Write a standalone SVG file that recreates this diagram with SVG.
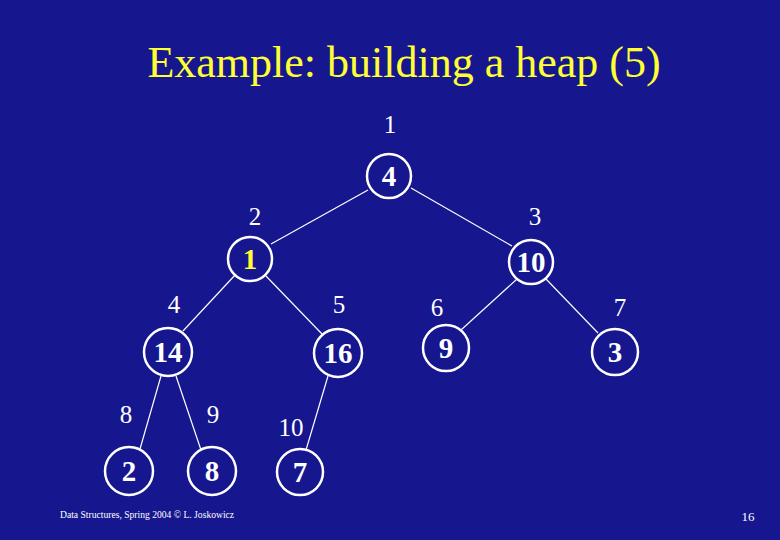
<svg xmlns="http://www.w3.org/2000/svg" width="780" height="540" viewBox="0 0 780 540">
<style>
text{font-family:"Liberation Serif","Times New Roman",serif}
.n{fill:none;stroke:#fff;stroke-width:2.5}
.v{font-weight:bold;font-size:29px;fill:#fff;text-anchor:middle}
.i{font-size:25px;fill:#fff;text-anchor:middle}
.t{font-size:44px;fill:#ffff33;text-anchor:middle}
.f{font-size:9.6px;fill:#fff}
.e line{stroke:#fff;stroke-width:1.2}
</style>
<rect width="780" height="540" fill="#16168e"/>
<text class="t" x="404" y="77">Example: building a heap (5)</text>
<g class="e">
<line x1="368" y1="190" x2="271" y2="244"/>
<line x1="411" y1="188" x2="512" y2="246"/>
<line x1="236" y1="274" x2="183" y2="331"/>
<line x1="265" y1="275" x2="322" y2="334"/>
<line x1="517" y1="279" x2="461" y2="330"/>
<line x1="546" y1="279" x2="598" y2="333"/>
<line x1="161" y1="376" x2="140" y2="449"/>
<line x1="176" y1="376" x2="201" y2="450"/>
<line x1="328" y1="376" x2="306" y2="450"/>
</g>
<g id="n1"><circle class="n" cx="389" cy="176" r="22"/><text class="v" x="389" y="186">4</text><text class="i" x="390" y="133">1</text></g>
<g id="n2"><circle class="n" cx="250" cy="259" r="22"/><text class="v" x="250" y="269" style="fill:#ffff33">1</text><text class="i" x="255" y="225">2</text></g>
<g id="n3"><circle class="n" cx="531" cy="262" r="22"/><text class="v" x="531" y="272">10</text><text class="i" x="535" y="225">3</text></g>
<g id="n4"><circle class="n" cx="168" cy="352" r="24"/><text class="v" x="168" y="362">14</text><text class="i" x="174" y="313">4</text></g>
<g id="n5"><circle class="n" cx="338" cy="353" r="24"/><text class="v" x="338" y="363">16</text><text class="i" x="339" y="313">5</text></g>
<g id="n6"><circle class="n" cx="446" cy="348" r="23"/><text class="v" x="446" y="358">9</text><text class="i" x="437" y="316">6</text></g>
<g id="n7"><circle class="n" cx="615" cy="352" r="23"/><text class="v" x="615" y="362">3</text><text class="i" x="620" y="316">7</text></g>
<g id="n8"><circle class="n" cx="129" cy="471" r="24"/><text class="v" x="129" y="481">2</text><text class="i" x="126" y="423">8</text></g>
<g id="n9"><circle class="n" cx="212" cy="471" r="24"/><text class="v" x="212" y="481">8</text><text class="i" x="213" y="423">9</text></g>
<g id="n10"><circle class="n" cx="300" cy="472" r="23"/><text class="v" x="300" y="482">7</text><text class="i" x="291" y="436">10</text></g>
<text class="f" x="60" y="518">Data Structures, Spring 2004 © L. Joskowicz</text>
<text class="f" x="748" y="521" style="font-size:13px;text-anchor:middle">16</text>
</svg>
